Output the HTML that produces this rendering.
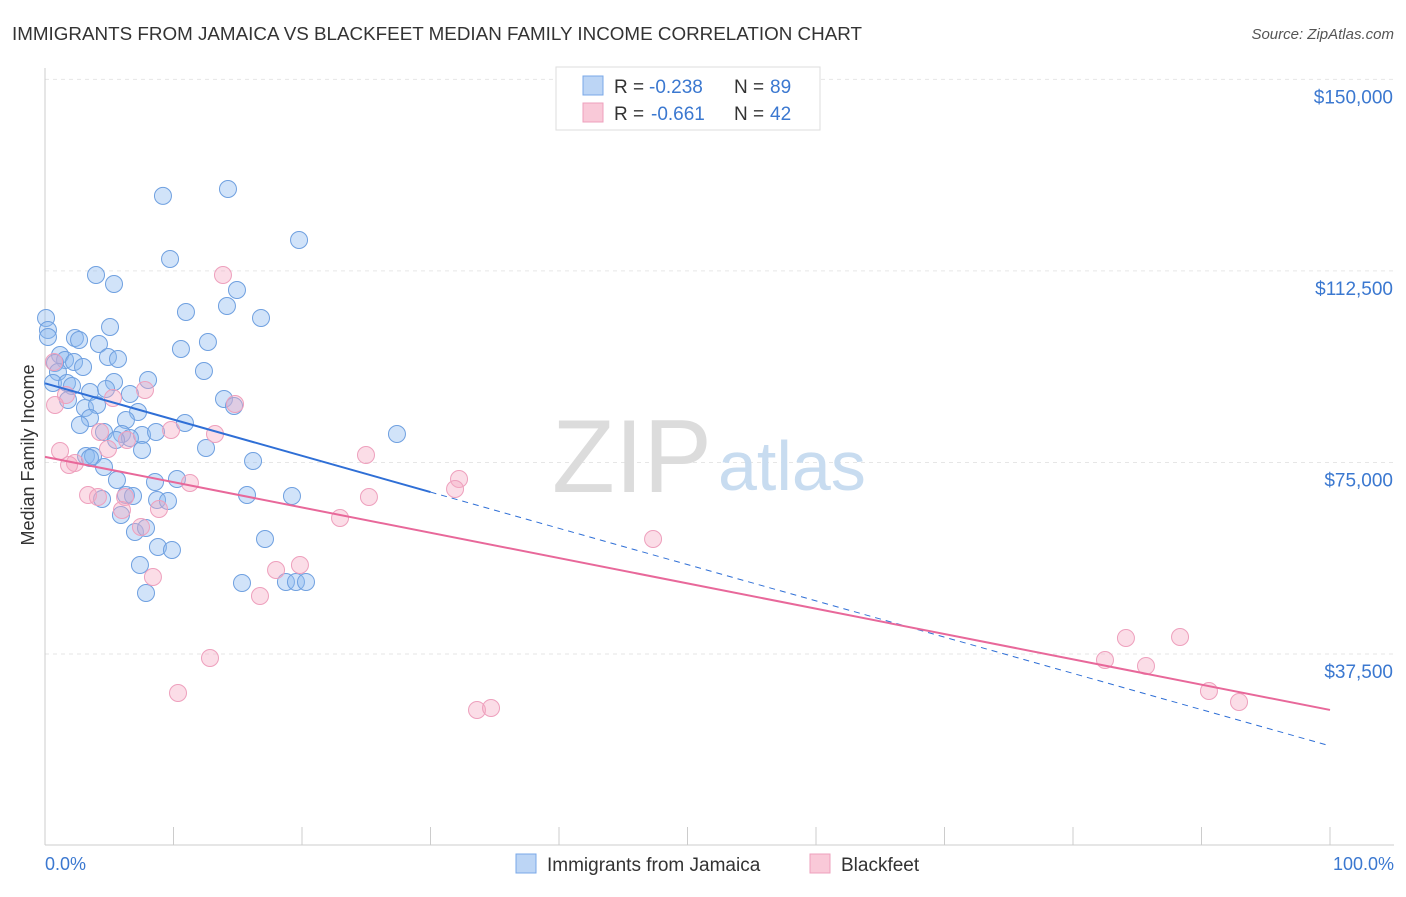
<!DOCTYPE html>
<html><head><meta charset="utf-8"><style>
body{margin:0;background:#fff;font-family:"Liberation Sans",sans-serif;}
svg text{font-family:"Liberation Sans",sans-serif;}
</style></head><body>
<svg id="c" width="1406" height="892">
<text x="12" y="40" font-size="18" fill="#333" textLength="850" lengthAdjust="spacingAndGlyphs">IMMIGRANTS FROM JAMAICA VS BLACKFEET MEDIAN FAMILY INCOME CORRELATION CHART</text>
<text x="1394" y="39" font-size="15" fill="#555" font-style="italic" text-anchor="end">Source: ZipAtlas.com</text>
<g id="grid"></g>
<text x="712" y="492" font-size="104" fill="#dcdcdc" font-family="Liberation Serif" text-anchor="end" textLength="160" lengthAdjust="spacingAndGlyphs">ZIP</text>
<text x="718" y="490" font-size="70" fill="#c8dcf0">atlas</text>
<g id="pts"></g>
<g id="lines"></g>
<text transform="translate(34,455) rotate(-90)" font-size="18" fill="#333" text-anchor="middle">Median Family Income</text>
<text x="45" y="870" font-size="18" fill="#3b78d0">0.0%</text>
<text x="1394" y="870" font-size="18" fill="#3b78d0" text-anchor="end">100.0%</text>
<g>
<rect x="556" y="67" width="264" height="63" fill="#fff" stroke="#ddd"/>
<rect x="583" y="76" width="20" height="19" fill="#bcd5f5" stroke="#7aa8e8"/>
<rect x="583" y="103" width="20" height="19" fill="#f9c9d8" stroke="#eea0bd"/>
<text x="614" y="93" font-size="19" fill="#333">R =</text>
<text x="649" y="93" font-size="19" fill="#3b78d0">-0.238</text>
<text x="734" y="93" font-size="19" fill="#333">N =</text>
<text x="770" y="93" font-size="19" fill="#3b78d0">89</text>
<text x="614" y="120" font-size="19" fill="#333">R =</text>
<text x="651" y="120" font-size="19" fill="#3b78d0">-0.661</text>
<text x="734" y="120" font-size="19" fill="#333">N =</text>
<text x="770" y="120" font-size="19" fill="#3b78d0">42</text>
</g>
<g>
<rect x="516" y="854" width="20" height="19" fill="#bcd5f5" stroke="#7aa8e8"/>
<text x="547" y="871" font-size="19" fill="#333">Immigrants from Jamaica</text>
<rect x="810" y="854" width="20" height="19" fill="#f9c9d8" stroke="#eea0bd"/>
<text x="841" y="871" font-size="19" fill="#333">Blackfeet</text>
</g>
</svg>
<script>
const yTicks=[37500,75000,112500,150000];
const yTickLabels=["$37,500","$75,000","$112,500","$150,000"];
const xTicks=[0,10,20,30,40,50,60,70,80,90,100];
const blueX=[9.18,14.24,19.77,9.73,3.97,5.37,14.94,10.97,14.16,16.81,0.08,0.23,5.06,0.23,2.33,2.65,4.2,12.68,10.58,1.17,1.56,4.9,5.68,0.78,2.26,2.96,12.37,1.01,8.02,0.62,5.37,1.71,2.1,3.5,4.75,6.61,1.79,13.93,14.71,3.11,4.05,7.24,3.5,6.3,2.72,10.89,4.59,5.99,7.55,8.64,6.61,5.53,27.39,7.55,12.53,3.19,3.74,3.5,4.59,16.19,10.27,5.6,8.56,6.3,6.85,8.72,4.44,9.57,15.72,19.22,5.91,7,7.86,17.12,8.79,9.88,7.39,15.33,18.75,19.53,20.31,7.86];
const blueY=[127200,128540,118560,114840,111700,109940,108770,104460,105630,103290,103290,100930,101520,99560,99370,98980,98190,98580,97220,96040,95060,95650,95260,94470,94670,93690,92910,92710,91150,90560,90750,90560,89970,88800,89390,88400,87230,87430,86050,85660,86250,84880,83700,83310,82330,82730,80960,80570,80370,80960,79790,79400,80570,77440,77830,76260,76260,75870,74110,75290,71760,71570,71180,68630,68430,67650,67850,67460,68630,68430,64710,61380,62170,60010,58450,57860,54920,51400,51600,51600,51600,49440];
const pinkX=[13.85,0.7,1.63,0.78,7.78,5.29,14.79,9.81,4.28,13.23,6.38,1.17,4.9,2.33,1.87,24.98,32.22,31.91,11.28,3.35,4.12,6.23,25.21,8.87,5.99,22.96,7.47,47.32,19.84,17.98,8.4,16.73,12.84,10.35,33.62,34.71,84.12,88.33,82.49,85.68,90.58,92.92];
const pinkY=[111700,94670,88210,86250,89190,87620,86450,81350,80960,80570,79400,77240,77640,74890,74500,76460,71760,69800,70980,68630,68240,68240,68240,65890,65690,64120,62370,60010,54920,53940,52570,48850,36710,29860,26530,26920,40630,40820,36320,35150,30250,28100];
const blueTrend=[90500,19500];
const pinkTrend=[76100,26540];
const NS="http://www.w3.org/2000/svg";
const X=v=>45+v*12.85, Y=v=>845.5-v/195.8;
function mk(t,a,p){const e=document.createElementNS(NS,t);for(const k in a)e.setAttribute(k,a[k]);p.appendChild(e);return e;}
const g=document.getElementById('grid');
yTicks.forEach((t,i)=>{
 const l=mk('line',{x1:45,x2:1394,y1:Y(t),y2:Y(t),stroke:'#e6e6e6','stroke-dasharray':'4,4'},g);
 
 
 const tx=mk('text',{x:1393,y:Y(t)+24,'font-size':19,fill:'#3b78d0','text-anchor':'end'},g);
 tx.textContent=yTickLabels[i];
 
 
});
const ax=mk('line',{x1:45,x2:1394,y1:845,y2:845,stroke:'#ccc'},g);


const ay=mk('line',{x1:45,x2:45,y1:68,y2:845,stroke:'#ccc'},g);


xTicks.forEach(t=>{
 const l=mk('line',{x1:X(t),x2:X(t),y1:827,y2:845,stroke:'#ccc'},g);
 
 
});
const p=document.getElementById('pts');
blueX.forEach((x,i)=>{
 const c=mk('circle',{cx:X(x),cy:Y(blueY[i]),r:8.5,fill:'rgba(140,185,240,0.4)',stroke:'#6fa0e0','stroke-width':1},p);
 
 
});
pinkX.forEach((x,i)=>{
 const c=mk('circle',{cx:X(x),cy:Y(pinkY[i]),r:8.5,fill:'rgba(245,170,195,0.4)',stroke:'#eea0bd','stroke-width':1},p);
 
 
});
const L=document.getElementById('lines');
const bv=x=>blueTrend[0]+(blueTrend[1]-blueTrend[0])*x/100;
const b1=mk('line',{x1:X(0),y1:Y(bv(0)),x2:X(30),y2:Y(bv(30)),stroke:'#2f6fd6','stroke-width':2},L);


const b2=mk('line',{x1:X(30),y1:Y(bv(30)),x2:X(100),y2:Y(bv(100)),stroke:'#2f6fd6','stroke-width':1,'stroke-dasharray':'6,5'},L);


const pl=mk('line',{x1:X(0),y1:Y(pinkTrend[0]),x2:X(100),y2:Y(pinkTrend[1]),stroke:'#e8689a','stroke-width':2},L);


</script>
</body></html>
